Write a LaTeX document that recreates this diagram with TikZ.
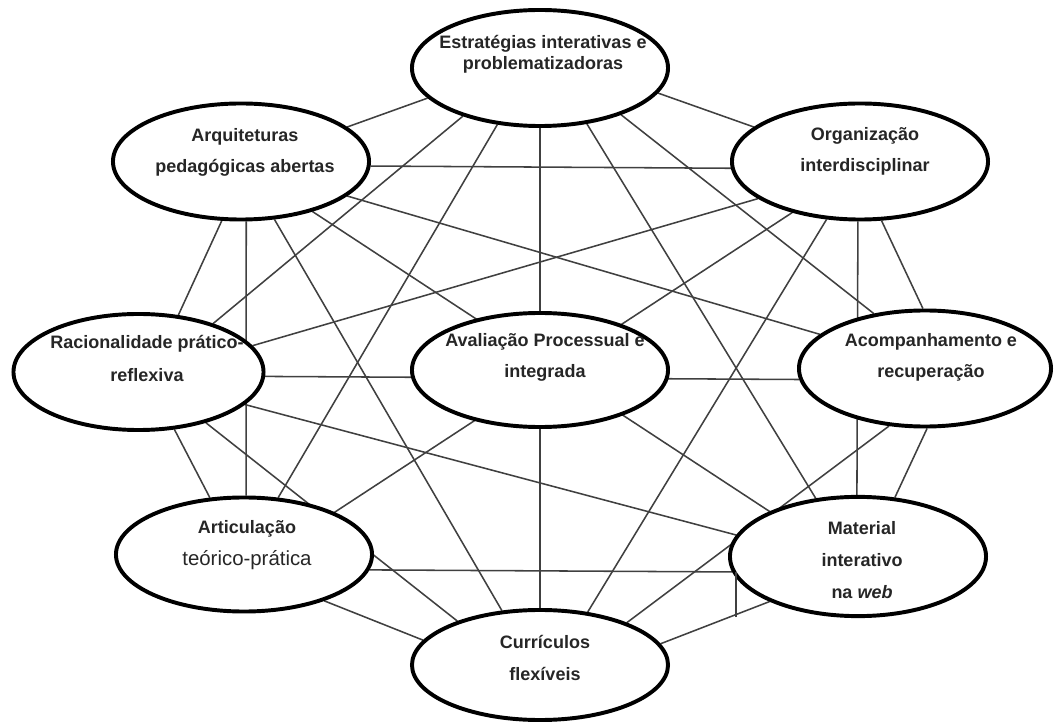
\documentclass[tikz,border=0pt]{standalone}
\usepackage{fontspec}
\setmainfont{Liberation Sans}
\usetikzlibrary{shapes.geometric,backgrounds}

\begin{document}
\begin{tikzpicture}[x=0.025cm,y=-0.025cm,
    bubble/.style={ellipse,draw=black,line width=2.8pt,fill=white,inner sep=0pt,
                   minimum width=6.4cm,minimum height=2.9cm},
    bubbletext/.style={align=center,anchor=base,text=black!85,
                   font=\fontsize{12.8}{22.5}\selectfont\bfseries},
    link/.style={draw=black!75,line width=1.1pt}]

     \useasboundingbox (0,0) rectangle (1054,728);

     % the nine ellipses
     \node[bubble]                          (est) at (540,68)      {};
     \node[bubble]                          (arq) at (241,161.5)   {};
     \node[bubble]                          (org) at (860,161.5)   {};
     \node[bubble,minimum width=6.25cm]     (rac) at (138.5,372)   {};
     \node[bubble,minimum height=2.85cm]    (ava) at (540,370)     {};
     \node[bubble,minimum width=6.3cm]      (aco) at (925,368.5)   {};
     \node[bubble,minimum height=2.85cm]    (art) at (244,554.5)   {};
     \node[bubble,minimum height=2.98cm]    (mat) at (858,556.5)   {};
     \node[bubble,minimum height=2.75cm]    (cur) at (540,665)     {};

     % texts inside (placed at the baseline of their last line)
     \node[bubbletext,font=\fontsize{12.8}{15.6}\selectfont\bfseries] (est-t) at (543,70)
          {Estratégias interativas e\\problematizadoras};
     \node[bubbletext] (arq-t) at (245,173) {Arquiteturas\\pedagógicas abertas};
     \node[bubbletext] (org-t) at (865,172) {Organização\\interdisciplinar};
     \node[bubbletext,font=\fontsize{12.8}{24}\selectfont\bfseries] (rac-t) at (147,382)
          {Racionalidade prático-\\reflexiva};
     \node[bubbletext] (ava-t) at (545,378) {Avaliação Processual e\\integrada};
     \node[bubbletext] (aco-t) at (931,378) {Acompanhamento e\\recuperação};
     \node[bubbletext] (art-t) at (247,565)
          {Articulação\\{\mdseries\fontsize{14.5}{22.5}\selectfont teórico-prática}};
     \node[bubbletext] (mat-t) at (862,598) {Material\\interativo\\na \textit{web}};
     \node[bubbletext] (cur-t) at (545,680) {Currículos\\flexíveis};

     % the links, behind the ellipses
     \begin{pgfonlayer}{background}
     \draw[link] (est.-165.4) -- (arq.18.5);
     \draw[link] (est.-12.6)  -- (org.162.7);
     \draw[link] (est.south)  -- (cur.north);
     \draw[link] (est.-148.6) -- (rac.33.5);
     \draw[link] (est.-127.9) -- (art.59.8);
     \draw[link] (est.-50.9)  -- (mat.126.5);
     \draw[link] (est.-30)    -- (aco.133.2);

     \draw[link] (arq.-2.4)   -- (org.-177.6);
     \draw[link] (arq.-108.9) -- (rac.55.3);
     \draw[link] (arq.-85.3)  -- (art.88);
     \draw[link] (arq.-60.3)  -- (cur.125.5);
     \draw[link] (arq.-35)    -- (mat.153.4);
     \draw[link] (arq.-18.5)  -- (aco.162.3);

     \draw[link] (rac.13.4)   -- (org.-160.7);
     \draw[link] (rac.-2.7)   -- (aco.-175.8);
     \draw[link] (rac.-58.3)  -- (art.121.9);
     \draw[link] (rac.-37.2)  -- (cur.152.6);
     \draw[link] (rac.-17)    -- (mat.170.8);

     \draw[link] (org.-143.8) -- (art.25.5);
     \draw[link] (org.-120.8) -- (cur.48.4);
     \draw[link] (org.-92.8)  -- (mat.91);
     \draw[link] (org.-70)    -- (aco.92.8);

     \draw[link] (aco.-88.2)  -- (mat.58.1);
     \draw[link] (aco.-122.1) -- (cur.26.3);

     \draw[link] (art.-7.5)   -- (mat.-173.7);
     \draw[link] (art.-30.4)  -- (cur.168.7);
     \draw[link] (mat.-153.4) -- (cur.10.9);
     \end{pgfonlayer}

     % short stub under the link to the web material
     \coordinate (stub) at (736,617);
     \draw[link] (stub) -- (stub |- mat.-173.7);

\end{tikzpicture}
\end{document}
